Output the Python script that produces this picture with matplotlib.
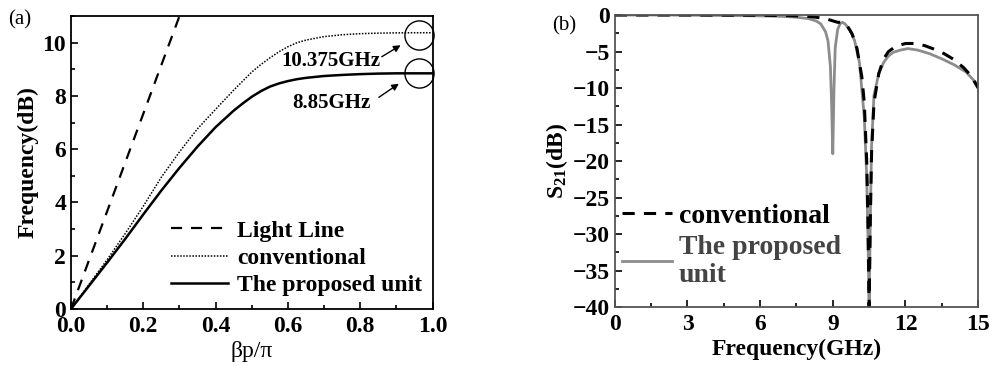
import matplotlib
matplotlib.use("Agg")
import matplotlib.pyplot as plt
from matplotlib.ticker import MultipleLocator

plt.rcParams['font.family'] = ['Liberation Serif', 'DejaVu Serif']
plt.rcParams['font.weight'] = 'bold'
plt.rcParams['axes.labelweight'] = 'bold'
plt.rcParams['mathtext.fontset'] = 'custom'
plt.rcParams['mathtext.rm'] = 'Liberation Serif:bold'
plt.rcParams['mathtext.bf'] = 'Liberation Serif:bold'
plt.rcParams['mathtext.it'] = 'Liberation Serif:bold'

# (a) dispersion curves
beta = [0.0, 0.05, 0.1, 0.15, 0.2, 0.25, 0.3, 0.35, 0.4, 0.45, 0.475, 0.5,
        0.525, 0.55, 0.575, 0.6, 0.625, 0.65, 0.7, 0.75, 0.8, 0.85, 0.9,
        0.95, 1.0]
light_x = [0.0, 0.3]
light_y = [0.0, 11.0]
conv_f = [0.0, 0.92, 1.85, 2.83, 3.86, 4.95, 5.9, 6.77, 7.5, 8.22, 8.56,
          8.9, 9.18, 9.43, 9.66, 9.85, 10.0, 10.1, 10.23, 10.3, 10.34, 10.36,
          10.37, 10.375, 10.375]
prop_f = [0.0, 0.87, 1.74, 2.63, 3.55, 4.45, 5.3, 6.1, 6.83, 7.45, 7.72,
          7.97, 8.18, 8.35, 8.47, 8.56, 8.63, 8.68, 8.75, 8.79, 8.82, 8.84,
          8.85, 8.85, 8.85]

# (b) S21
conv_x = [0, 1, 2, 3, 4, 5, 6, 7, 7.5, 8, 8.3, 8.6, 8.8, 9.0, 9.2, 9.4, 9.6,
          9.8, 10.0, 10.2, 10.3, 10.4, 10.45, 10.5, 10.55, 10.6, 10.7, 10.9,
          11.1, 11.3, 11.6, 12.0, 12.4, 12.8, 13.2, 13.6, 14.0, 14.4, 14.7, 15]
conv_s21 = [0, 0, 0, 0, -0.01, -0.02, -0.04, -0.08, -0.12, -0.2, -0.3, -0.45,
            -0.6, -0.8, -1.0, -1.0, -1.5, -2.6, -4.6, -8.5, -12, -20, -28, -40,
            -28, -19, -12, -8, -6, -5, -4.3, -3.9, -3.9, -4.2, -4.7, -5.3,
            -6.1, -7.2, -8.3, -10]
prop_x = [0, 1, 2, 3, 4, 5, 6, 7, 7.5, 8, 8.3, 8.5, 8.7, 8.8, 8.9, 8.95, 9.0,
          9.05, 9.1, 9.2, 9.3, 9.4, 9.5, 9.7, 9.9, 10.1, 10.3, 10.4, 10.45,
          10.5, 10.55, 10.6, 10.7, 10.9, 11.1, 11.3, 11.5, 11.8, 12.1, 12.5,
          13, 13.5, 14, 14.5, 15]
prop_s21 = [0, 0, 0, -0.02, -0.05, -0.08, -0.12, -0.2, -0.3, -0.5, -0.8, -1.2,
            -2.3, -3.5, -7, -12, -19, -10, -4.5, -2, -1.2, -1.0, -1.2, -2,
            -3.5, -6.5, -14, -22, -30, -40, -28, -18, -11, -8, -6.5, -5.6,
            -5.1, -4.8, -4.6, -4.8, -5.3, -6, -6.8, -7.8, -9.6]

fig = plt.figure(figsize=(9.9, 3.66), dpi=100)
ax1 = fig.add_axes([0.0717, 0.156, 0.3653, 0.80])
ax2 = fig.add_axes([0.621, 0.161, 0.367, 0.798])

for ax in (ax1, ax2):
    ax.tick_params(which='both', direction='in', labelsize=17, width=1.2)
    ax.tick_params(which='major', length=5)
    ax.tick_params(which='minor', length=3)
    for s in ax.spines.values():
        s.set_linewidth(1.3)

# panel (a)
ax1.plot(light_x, light_y, color='k', ls=(0, (5, 4)), lw=1.6, label='Light Line')
ax1.plot(beta, conv_f, color='k', ls=(0, (1, 1)), lw=1.1, label='conventional')
ax1.plot(beta, prop_f, color='k', lw=1.8, label='The proposed unit')
ax1.set_xlim(0, 1.0)
ax1.set_ylim(0, 11)
ax1.xaxis.set_minor_locator(MultipleLocator(0.1))
ax1.yaxis.set_major_locator(MultipleLocator(2))
ax1.yaxis.set_minor_locator(MultipleLocator(1))
ax1.set_xticks([0, 0.2, 0.4, 0.6, 0.8, 1.0])
ax1.set_xticklabels(['0.0', '0.2', '0.4', '0.6', '0.8', '1.0'])
ax1.tick_params(axis='x', pad=5)
ax1.set_xlabel('\u03b2p/\u03c0', fontsize=17, fontweight='normal', labelpad=3)
ax1.set_ylabel('Frequency(dB)', fontsize=17, labelpad=3)
ax1.legend(loc='lower right', bbox_to_anchor=(1.03, -0.03), frameon=False,
           fontsize=17, handlelength=2.4, labelspacing=0.25, handletextpad=0.4)

ax1.plot([0.961, 0.961], [10.28, 8.87], ls='none', marker='o', ms=21,
         mfc='none', mec='k', mew=1.0, clip_on=False)
ax1.annotate('', xy=(0.918, 9.96), xytext=(0.853, 9.42),
             arrowprops=dict(arrowstyle='-|>', color='k', lw=1.0, mutation_scale=10))
ax1.annotate('', xy=(0.913, 8.52), xytext=(0.845, 7.89),
             arrowprops=dict(arrowstyle='-|>', color='k', lw=1.0, mutation_scale=10))
ax1.text(0.72, 9.3, '10.375GHz', fontsize=15, ha='center', va='center')
ax1.text(0.72, 7.72, '8.85GHz', fontsize=15, ha='center', va='center')
fig.text(0.008, 0.945, '(a)', fontsize=15, fontweight='normal', va='center')

# panel (b)
ax2.plot(prop_x, prop_s21, color='#8c8c8c', lw=2.0, label='The proposed\nunit')
ax2.plot(conv_x, conv_s21, color='k', ls=(0, (4, 3)), lw=2.2, label='conventional')
ax2.set_xlim(0, 15)
ax2.set_ylim(-40, 0)
ax2.xaxis.set_major_locator(MultipleLocator(3))
ax2.xaxis.set_minor_locator(MultipleLocator(1.5))
ax2.yaxis.set_major_locator(MultipleLocator(5))
ax2.yaxis.set_minor_locator(MultipleLocator(2.5))
ax2.tick_params(axis='x', pad=5)
ax2.set_xlabel('Frequency(GHz)', fontsize=17, labelpad=3)
ax2.set_ylabel('S$_{21}$(dB)', fontsize=17, labelpad=2)
h, l = ax2.get_legend_handles_labels()
leg = ax2.legend([h[1], h[0]], [l[1], l[0]], loc='upper left',
                 bbox_to_anchor=(-0.05, 0.44), frameon=False, fontsize=20,
                 handlelength=1.8, labelspacing=0.2, handletextpad=0.25)
leg.get_texts()[1].set_color('#444444')
for s in ax2.spines.values():
    s.set_color('#555555')
fig.text(0.558, 0.93, '(b)', fontsize=15, fontweight='normal', va='center')

fig.savefig('out.png', dpi=100)
